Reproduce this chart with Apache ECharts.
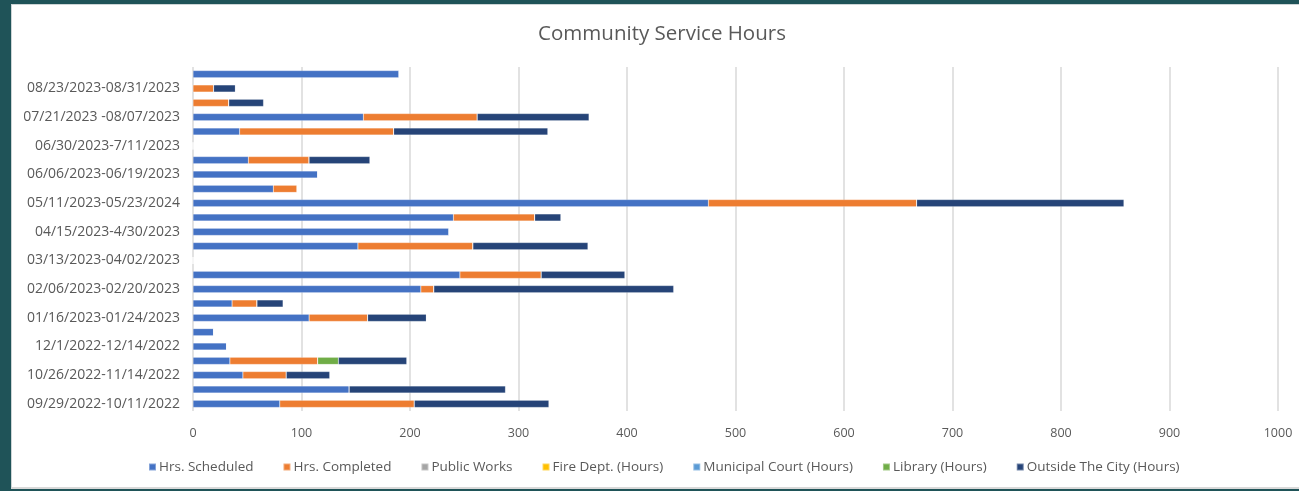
<!DOCTYPE html>
<html>
<head>
<meta charset="utf-8">
<script src="https://cdn.jsdelivr.net/npm/echarts@6/dist/echarts.min.js"></script>
<style>
  html, body { margin:0; padding:0; width:1299px; height:491px; background:#1f5358; overflow:hidden; }
  #wrap { position:absolute; left:11px; top:4px; width:1288px; height:485px; background:#fff;
          border-left:1px solid #cdd5d6; border-top:1px solid #cdd5d6; border-bottom:2px solid #d9d9d9; box-sizing:border-box; }
  #chart { position:absolute; left:0; top:0; width:1287px; height:482px; }
</style>
</head>
<body>
<div id="wrap"><div id="chart"></div></div>
<script>
// Categories, bottom to top (only every other row carries a label in the source)
const categories = [
  "09/29/2022-10/11/2022", "",
  "10/26/2022-11/14/2022", "",
  "12/1/2022-12/14/2022", "",
  "01/16/2023-01/24/2023", "",
  "02/06/2023-02/20/2023", "",
  "03/13/2023-04/02/2023", "",
  "04/15/2023-4/30/2023", "",
  "05/11/2023-05/23/2024", "",
  "06/06/2023-06/19/2023", "",
  "06/30/2023-7/11/2023", "",
  "07/21/2023 -08/07/2023", "",
  "08/23/2023-08/31/2023", ""
];
const hrsScheduled   = [80, 144, 46, 34, 31, 19, 107, 36, 210, 246, 0, 152, 236, 240, 475, 74, 115, 51, 0, 43, 157, 0, 0, 190];
const hrsCompleted   = [124, 0, 40, 81, 0, 0, 54, 23, 12, 75, 0, 106, 0, 75, 192, 22, 0, 56, 0, 142, 105, 33, 19, 0];
const publicWorks    = [0, 0, 0, 0, 0, 0, 0, 0, 0, 0, 0, 0, 0, 0, 0, 0, 0, 0, 0, 0, 0, 0, 0, 0];
const fireDept       = [0, 0, 0, 0, 0, 0, 0, 0, 0, 0, 0, 0, 0, 0, 0, 0, 0, 0, 0, 0, 0, 0, 0, 0];
const municipalCourt = [0, 0, 0, 0, 0, 0, 0, 0, 0, 0, 0, 0, 0, 0, 0, 0, 0, 0, 0, 0, 0, 0, 0, 0];
const library        = [0, 0, 0, 19, 0, 0, 0, 0, 0, 0, 0, 0, 0, 0, 0, 0, 0, 0, 0, 0, 0, 0, 0, 0];
const outsideCity    = [124, 144, 40, 63, 0, 0, 54, 24, 221, 77, 0, 106, 0, 24, 191, 0, 0, 56, 0, 142, 103, 32, 20, 0];
const xTicks = [0, 100, 200, 300, 400, 500, 600, 700, 800, 900, 1000];

const seriesDefs = [
  ["Hrs. Scheduled", hrsScheduled, "#4472c4"],
  ["Hrs. Completed", hrsCompleted, "#ed7d31"],
  ["Public Works", publicWorks, "#a5a5a5"],
  ["Fire Dept. (Hours)", fireDept, "#ffc000"],
  ["Municipal Court (Hours)", municipalCourt, "#5b9bd5"],
  ["Library (Hours)", library, "#70ad47"],
  ["Outside The City (Hours)", outsideCity, "#264478"]
];

const FONT = "Open Sans";
const chart = echarts.init(document.getElementById('chart'), null, {renderer:'canvas'});
chart.setOption({
  animation: false,
  title: {
    text: "Community Service Hours",
    left: 645, top: 14, textAlign: 'center',
    textStyle: { fontFamily: FONT, fontSize: 20.5, fontWeight: 'normal', color: '#595959' }
  },
  legend: {
    data: seriesDefs.map(s => s[0]),
    left: 131, top: 450,
    itemWidth: 7, itemHeight: 7, itemGap: 29,
    icon: 'rect',
    textStyle: { fontFamily: FONT, fontSize: 13.5, color: '#595959', padding:[0,0,0,-2] }
  },
  grid: { left: 181, right: 21, top: 62, height: 344 },
  xAxis: {
    type: 'value', min: xTicks[0], max: xTicks[xTicks.length-1], interval: 100,
    axisLine: { show: false }, axisTick: { show: false },
    splitLine: { lineStyle: { color: '#d9d9d9', width: 1.5 } },
    axisLabel: { fontFamily: FONT, fontSize: 12.5, color: '#595959', margin: 16, formatter: v => String(v) }
  },
  yAxis: {
    type: 'category', data: categories,
    axisLine: { show: false }, axisTick: { show: false },
    axisLabel: { interval: 0, fontFamily: FONT, fontSize: 14, color: '#595959', margin: 13 }
  },
  series: seriesDefs.map(([name, data, color]) => ({
    name, type: 'bar', stack: 'total', data,
    barWidth: '50%',
    itemStyle: { color, borderColor: 'rgba(255,255,255,0.35)', borderWidth: 0.5 }
  }))
});
</script>
</body>
</html>
